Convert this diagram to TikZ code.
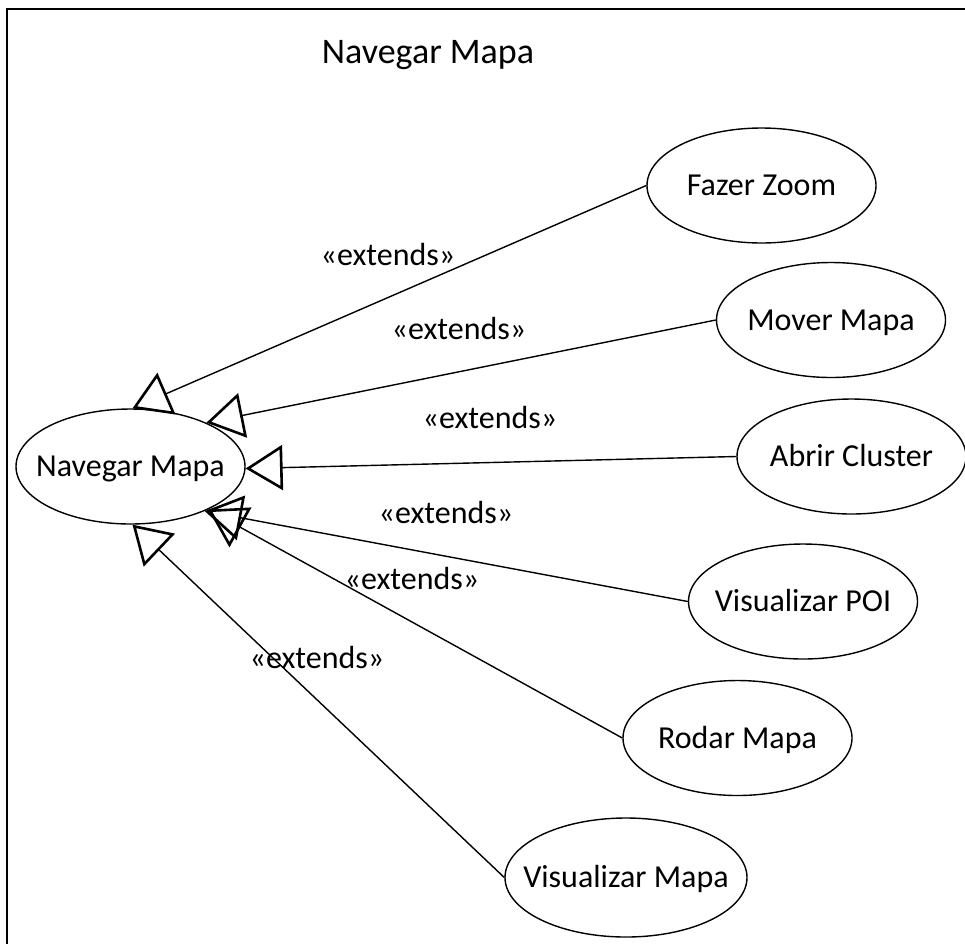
\documentclass[tikz,border=0pt]{standalone}
\usepackage{fontspec}
\setmainfont{Carlito}
\usetikzlibrary{shapes.geometric,arrows.meta}
\newcommand\uctxt[1]{\makebox[0pt]{#1}}
\begin{document}
\begin{tikzpicture}[x=1pt,y=-1pt,
  usecase/.style={draw, ellipse, line width=1.4pt, inner sep=0pt,
    minimum width=229pt, minimum height=115pt,
    font=\fontsize{32}{38}\selectfont, text height=20.5pt, text depth=0pt},
  ext/.style={line width=1.4pt, -{Triangle[open, length=37pt, width=45pt, line width=2.6pt]}},
  lbl/.style={anchor=base, inner sep=0pt, font=\fontsize{32}{38}\selectfont}]
\useasboundingbox (0,0) rectangle (965,943);
\clip (0,0) rectangle (965,943);
\draw[line width=2pt] (7,9) rectangle (1000,1000);

\node[anchor=base, inner sep=0pt, font=\fontsize{36}{43}\selectfont] (title) at (428,63) {Navegar Mapa};

\node[usecase] (nav) at (130.5,466.5) {\uctxt{Navegar Mapa}};
\node[usecase] (fz) at (761.5,185.5) {\uctxt{Fazer Zoom}};
\node[usecase] (mm) at (831,320) {\uctxt{Mover Mapa}};
\node[usecase] (ac) at (851.5,456.5) {\uctxt{Abrir Cluster}};
\node[usecase] (poi) at (803,601.5) {\uctxt{Visualizar POI}};
\node[usecase] (rm) at (737.5,738) {\uctxt{Rodar Mapa}};
\node[usecase, minimum width=242pt, minimum height=119pt] (vm) at (626,877.5) {\uctxt{Visualizar Mapa}};

\draw[ext] (fz.west) -- (nav.88);
\draw[ext] (mm.west) -- (nav.30);
\draw[ext] (ac.west) -- (nav.-1);
\draw[ext] (poi.west) -- (nav.-31);
\draw[ext] (rm.west) -- (nav.-29);
\draw[ext] (vm.west) -- (nav.-88);

\node[lbl] (l1) at (388,265) {«extends»};
\node[lbl] (l2) at (459,339) {«extends»};
\node[lbl] (l3) at (490,428) {«extends»};
\node[lbl] (l4) at (446,523) {«extends»};
\node[lbl] (l5) at (412,589) {«extends»};
\node[lbl] (l6) at (317,668) {«extends»};
\end{tikzpicture}
\end{document}
